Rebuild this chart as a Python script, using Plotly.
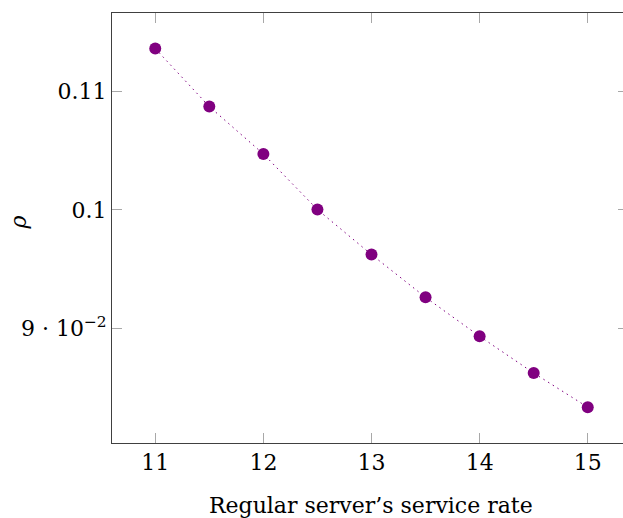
import plotly.graph_objects as go

service_rate = [11, 11.5, 12, 12.5, 13, 13.5, 14, 14.5, 15]
rho = [0.11357, 0.10869, 0.10470, 0.10002, 0.09623, 0.09263, 0.08935, 0.08626, 0.08338]

x_ticks = [11, 12, 13, 14, 15]
y_ticks = [0.09, 0.10, 0.11]
y_tick_text = ["9 · 10<sup>−2</sup>", "0.1", "0.11"]

x_label = "Regular server’s service rate"
y_label = "<i>ρ</i>"

color = "#800080"
font = "DejaVu Serif"
fs = 22
xr = [10.6, 15.326]
yr = [0.080370, 0.116566]

fig = go.Figure()
fig.add_trace(go.Scatter(
    x=service_rate, y=rho, mode="lines+markers",
    line=dict(color=color, width=1, dash="1.5px,4px"),
    marker=dict(color=color, size=12),
    showlegend=False, hoverinfo="skip",
))
fig.add_trace(go.Scatter(x=[None], y=[None], yaxis="y2", showlegend=False,
                         hoverinfo="skip"))

fig.update_layout(
    width=623, height=518,
    margin=dict(l=112, r=0, t=13, b=75),
    paper_bgcolor="white", plot_bgcolor="white",
    font=dict(family=font, size=fs, color="black"),
    xaxis=dict(range=xr, tickvals=x_ticks, ticks="inside", ticklen=10,
               tickcolor="#a8a8a8", showline=True, linecolor="#404040",
               linewidth=1, mirror="ticks", showgrid=False, zeroline=False,
               tickfont=dict(family=font, size=fs)),
    yaxis=dict(range=yr, tickvals=y_ticks, ticktext=y_tick_text,
               ticks="inside", ticklen=10, tickcolor="#a8a8a8",
               showline=True, linecolor="#404040", linewidth=1,
               showgrid=False, zeroline=False,
               tickfont=dict(family=font, size=fs)),
    yaxis2=dict(range=yr, tickvals=y_ticks, overlaying="y", side="right",
                ticks="inside", ticklen=5, tickcolor="#a8a8a8",
                showticklabels=False, showline=False, showgrid=False,
                zeroline=False),
    annotations=[
        dict(text=x_label, xref="paper", yref="paper", x=0.5068, y=-0.145,
             xanchor="center", yanchor="middle", showarrow=False,
             font=dict(family=font, size=fs)),
        dict(text=y_label, xref="paper", yref="paper", x=-0.184, y=0.513,
             xanchor="center", yanchor="middle", showarrow=False,
             textangle=-90, font=dict(family=font, size=fs)),
    ],
)

fig.write_html(
    "out.html",
    config={"displayModeBar": False},
    post_script="document.body.style.margin='0';document.body.style.overflow='hidden';",
)
